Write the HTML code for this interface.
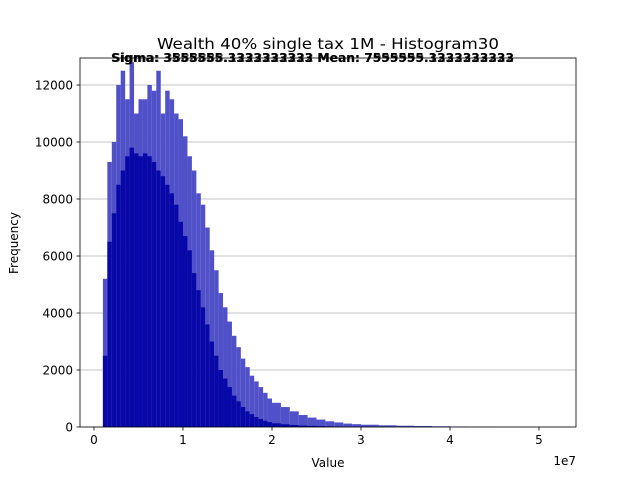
<!DOCTYPE html>
<html><head><meta charset="utf-8"><style>
body{margin:0;background:#fff}
svg{display:block;font-family:"DejaVu Sans","Liberation Sans",sans-serif}
</style></head><body>
<svg width="640" height="480">
<text x="328" y="49" text-anchor="middle" font-size="15" textLength="342" lengthAdjust="spacingAndGlyphs">Wealth 40% single tax 1M - Histogram30</text>
<g id="plot"></g>
<g font-size="12" font-weight="bold">
<text x="111" y="62" textLength="403" lengthAdjust="spacingAndGlyphs">Sigma: 3555555.3333333333 Mean: 7555555.3333333333</text>
<text x="112" y="62" opacity="0.7" textLength="402" lengthAdjust="spacingAndGlyphs">Sigma: 3888888.1222222222 Mean: 7999999.1222222222</text>
</g>
</svg>
<script>
const binStarts=[1.0,1.5,2.0,2.5,3.0,3.5,4.0,4.5,5.0,5.5,6.0,6.5,7.0,7.5,8.0,8.5,9.0,9.5,10,10.5,11,11.5,12,12.5,13,13.5,14,14.5,15,15.5,16,16.5,17,17.5,18,18.5,19,19.5,20,21,22,23,24,25,26,27,28,29,30,32,34,36,38,40,42,45,48,52];
const lightCounts=[5200,9300,10000,12000,12500,11500,12800,11000,11500,11500,12000,11800,12500,11000,11800,11500,11000,10800,10200,9500,9000,8200,7800,7000,6200,5500,4700,4200,3700,3200,2800,2400,2100,1800,1600,1400,1200,1000,850,700,550,420,330,260,200,160,120,100,80,60,45,35,25,15,8,4,2];
const darkCounts=[2500,6500,7500,8500,9000,9500,9800,9600,9500,9600,9500,9300,9000,8800,8500,8200,7800,7200,6700,6200,5400,4800,4200,3600,3000,2500,2000,1700,1400,1100,900,700,550,450,350,280,220,170,130,95,70,50,40,30,22,16,12,9,7,5,4,3,2,1,1,0,0];
const yTicks=[0,2000,4000,6000,8000,10000,12000];
const xTicks=[0,1,2,3,4,5];
const L=80,R=576,T=58,B=427;
const xs=v=>94+v*8.9; // v in 1e6
const ys=v=>B-v*(342/12000);
const NS="http://www.w3.org/2000/svg";
const g=document.getElementById('plot');
function mk(t,a,p){const e=document.createElementNS(NS,t);for(const k in a)e.setAttribute(k,a[k]);(p||g).appendChild(e);return e;}
yTicks.forEach(v=>{
 const l=mk('line',{x1:L,x2:R,y1:ys(v),y2:ys(v),stroke:'#b0b0b0','stroke-width':0.8});
 
 
 mk('line',{x1:L-3.5,x2:L,y1:ys(v),y2:ys(v),stroke:'#000','stroke-width':0.8});
 const t=mk('text',{x:L-7,y:ys(v)+4.5,'text-anchor':'end','font-size':12});t.textContent=v;
 
 
});
for(let i=0;i<binStarts.length-1;i++){
 const x0=xs(binStarts[i]),x1=xs(binStarts[i+1]);
 const b=mk('rect',{x:x0,y:ys(lightCounts[i]),width:Math.max(0.5,x1-x0),height:B-ys(lightCounts[i]),fill:'#5050c8'});
 
 
 const d=mk('rect',{x:x0,y:ys(darkCounts[i]),width:Math.max(0.5,x1-x0),height:B-ys(darkCounts[i]),fill:'#0808a8'});
 
 
}
xTicks.forEach(v=>{
 mk('line',{x1:xs(v*10),x2:xs(v*10),y1:B,y2:B+3.5,stroke:'#000','stroke-width':0.8});
 const t=mk('text',{x:xs(v*10),y:B+17,'text-anchor':'middle','font-size':12});t.textContent=v;
 
 
});
const fr=mk('rect',{x:L,y:T,width:R-L,height:B-T,fill:'none',stroke:'#000','stroke-width':0.8});


let t=mk('text',{x:576,y:465,'text-anchor':'end','font-size':12});t.textContent='1e7';


t=mk('text',{x:328,y:467,'text-anchor':'middle','font-size':12});t.textContent='Value';


t=mk('text',{x:18,y:243,'text-anchor':'middle','font-size':12,transform:'rotate(-90 18 243)'});t.textContent='Frequency';


</script>
</body></html>
